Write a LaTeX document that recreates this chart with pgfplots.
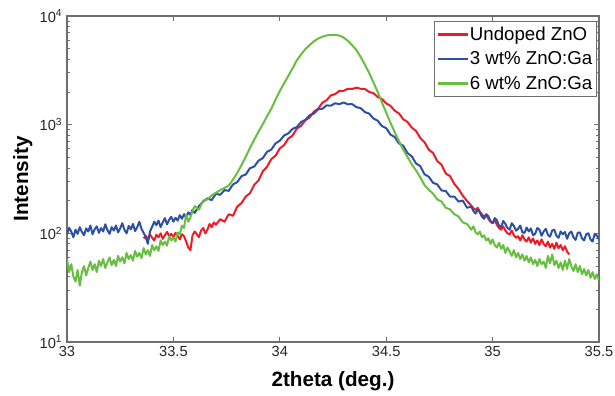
\documentclass[border=0pt]{standalone}
\usepackage{fontspec}
\setmainfont{Liberation Sans}
\usepackage{pgfplots}
\pgfplotsset{compat=1.18}
\usepackage{pgfplotstable}
\definecolor{cred}{RGB}{237,28,36}
\definecolor{cblue}{RGB}{46,80,164}
\definecolor{cgreen}{RGB}{104,190,64}
\definecolor{caxis}{RGB}{110,110,110}

\pgfplotstableread{
x y
33.36 90
33.37 95
33.38 88
33.39 98
33.40 91
33.41 86
33.42 97
33.43 92
33.44 100
33.45 89
33.46 96
33.47 103
33.48 94
33.49 99
33.50 92
33.51 101
33.52 95
33.53 88
33.54 98
33.55 94
33.56 84
33.57 74
33.58 70
33.59 96
33.60 104
33.61 98
33.62 92
33.63 106
33.64 112
33.65 100
33.66 108
33.67 122
33.68 114
33.69 126
33.70 120
33.72 135
33.74 128
33.76 150
33.78 145
33.80 176
33.82 190
33.84 218
33.86 234
33.88 280
33.90 306
33.92 372
33.94 410
33.96 482
33.98 518
34.00 605
34.02 648
34.04 745
34.06 795
34.08 920
34.10 975
34.12 1100
34.14 1165
34.16 1315
34.18 1400
34.20 1590
34.22 1680
34.24 1860
34.26 1910
34.28 2050
34.30 2050
34.32 2140
34.34 2130
34.36 2190
34.38 2140
34.40 2130
34.42 2000
34.44 1950
34.46 1800
34.48 1720
34.50 1570
34.52 1490
34.54 1345
34.56 1270
34.58 1120
34.60 1060
34.62 940
34.64 875
34.66 755
34.68 690
34.70 588
34.72 550
34.74 462
34.76 428
34.78 355
34.80 336
34.82 285
34.84 256
34.86 222
34.88 198
34.90 180
34.91 170
34.92 164
34.93 172
34.94 158
34.95 150
34.96 142
34.97 148
34.98 136
34.99 128
35.00 124
35.01 132
35.02 120
35.03 112
35.04 108
35.05 116
35.06 106
35.07 100
35.08 98
35.09 106
35.10 96
35.11 91
35.12 94
35.13 86
35.14 96
35.15 88
35.16 84
35.17 92
35.18 82
35.19 90
35.20 80
35.21 86
35.22 78
35.23 88
35.24 80
35.25 76
35.26 84
35.27 74
35.28 80
35.29 72
35.30 82
35.31 73
35.32 78
35.33 70
35.34 76
35.35 68
35.36 64
}\redtable

\pgfplotstableread{
x y
33.00 98
33.01 112
33.02 104
33.03 92
33.04 108
33.05 99
33.06 114
33.07 103
33.08 96
33.09 111
33.10 104
33.11 118
33.12 98
33.13 109
33.14 116
33.15 101
33.16 112
33.17 104
33.18 121
33.19 107
33.20 99
33.21 114
33.22 106
33.23 118
33.24 102
33.25 111
33.26 124
33.27 108
33.28 100
33.29 117
33.30 109
33.31 122
33.32 105
33.33 114
33.34 128
33.35 110
33.36 101
33.37 92
33.38 80
33.39 104
33.40 115
33.41 128
33.42 119
33.43 131
33.44 114
33.45 126
33.46 138
33.47 121
33.48 133
33.49 142
33.50 128
33.51 139
33.52 131
33.53 147
33.54 136
33.55 150
33.56 139
33.57 156
33.58 148
33.59 165
33.60 154
33.62 178
33.64 196
33.66 210
33.68 202
33.70 232
33.72 226
33.74 250
33.76 246
33.78 282
33.80 296
33.82 336
33.84 348
33.86 398
33.88 412
33.90 466
33.92 492
33.94 562
33.96 590
33.98 672
34.00 712
34.02 795
34.04 830
34.06 915
34.08 950
34.10 1060
34.12 1105
34.14 1220
34.16 1265
34.18 1385
34.20 1400
34.22 1505
34.24 1495
34.26 1575
34.28 1545
34.30 1600
34.32 1540
34.34 1545
34.36 1450
34.38 1420
34.40 1305
34.42 1265
34.44 1140
34.46 1090
34.48 970
34.50 930
34.52 810
34.54 770
34.56 672
34.58 640
34.60 548
34.62 512
34.64 440
34.66 415
34.68 350
34.70 332
34.72 292
34.74 282
34.76 248
34.78 245
34.80 218
34.82 218
34.84 196
34.86 200
34.88 172
34.90 176
34.91 160
34.92 152
34.93 166
34.94 156
34.95 142
34.96 136
34.97 150
34.98 144
34.99 130
35.00 124
35.01 138
35.02 132
35.03 118
35.04 114
35.05 130
35.06 122
35.07 112
35.08 108
35.09 124
35.10 117
35.11 106
35.12 110
35.13 118
35.14 102
35.15 101
35.16 113
35.17 104
35.18 111
35.19 96
35.20 99
35.21 112
35.22 108
35.23 95
35.24 104
35.25 110
35.26 97
35.27 93
35.28 106
35.29 108
35.30 95
35.31 91
35.32 104
35.33 98
35.34 103
35.35 89
35.36 100
35.37 104
35.38 92
35.39 87
35.40 101
35.41 102
35.42 90
35.43 86
35.44 98
35.45 100
35.46 88
35.47 84
35.48 99
35.49 95
35.50 88
}\bluetable

\pgfplotstableread{
x y
33.00 58
33.01 44
33.02 52
33.03 40
33.04 36
33.05 46
33.06 33
33.07 44
33.08 50
33.09 41
33.10 48
33.11 55
33.12 46
33.13 52
33.14 44
33.15 56
33.16 50
33.17 58
33.18 48
33.19 54
33.20 60
33.21 51
33.22 57
33.23 50
33.24 62
33.25 55
33.26 60
33.27 53
33.28 66
33.29 58
33.30 63
33.31 56
33.32 69
33.33 61
33.34 66
33.35 59
33.36 73
33.37 64
33.38 70
33.39 62
33.40 78
33.41 70
33.42 76
33.43 69
33.44 86
33.45 78
33.46 84
33.47 77
33.48 94
33.49 86
33.50 92
33.51 84
33.52 102
33.53 98
33.54 118
33.55 112
33.56 150
33.57 128
33.58 140
33.59 160
33.60 178
33.62 165
33.64 200
33.66 205
33.68 224
33.70 236
33.72 250
33.74 262
33.76 275
33.78 312
33.80 360
33.82 425
33.84 505
33.86 612
33.88 728
33.90 862
33.92 1010
33.94 1195
33.96 1400
33.98 1700
34.00 2040
34.02 2400
34.04 2810
34.06 3300
34.08 3920
34.10 4430
34.12 4950
34.14 5400
34.16 5850
34.18 6200
34.20 6450
34.22 6620
34.24 6720
34.26 6700
34.28 6600
34.30 6350
34.32 5900
34.34 5380
34.36 4850
34.38 4200
34.40 3560
34.42 2990
34.44 2450
34.46 2000
34.48 1600
34.50 1290
34.52 1040
34.54 855
34.56 705
34.58 590
34.60 505
34.62 432
34.64 380
34.66 328
34.68 278
34.70 252
34.72 232
34.74 205
34.76 196
34.78 172
34.80 166
34.82 150
34.84 143
34.86 126
34.88 122
34.90 108
34.91 116
34.92 102
34.93 98
34.94 104
34.95 92
34.96 96
34.97 86
34.98 90
34.99 80
35.00 88
35.01 78
35.02 74
35.03 82
35.04 72
35.05 78
35.06 66
35.07 74
35.08 68
35.09 62
35.10 70
35.11 60
35.12 66
35.13 58
35.14 64
35.15 56
35.16 62
35.17 54
35.18 60
35.19 52
35.20 57
35.21 50
35.22 58
35.23 52
35.24 55
35.25 48
35.26 62
35.27 53
35.28 64
35.29 51
35.30 56
35.31 48
35.32 54
35.33 46
35.34 56
35.35 47
35.36 58
35.37 50
35.38 45
35.39 52
35.40 44
35.41 50
35.42 42
35.43 47
35.44 41
35.45 46
35.46 39
35.47 44
35.48 38
35.49 42
35.50 37
}\greentable

\begin{document}
\begin{tikzpicture}
\begin{semilogyaxis}[
  scale only axis,
  width=399pt, height=244.5pt,
  xmin=33, xmax=35.5, ymin=10, ymax=10000,
  xtick={33,33.5,34,34.5,35,35.5},
  xticklabels={33,33.5,34,34.5,35,35.5},
  ytick={10,100,1000,10000},
  yticklabels={10\textsuperscript{1},10\textsuperscript{2},10\textsuperscript{3},10\textsuperscript{4}},
  minor x tick num=0,
  tick align=inside,
  tick pos=both,
  major tick length=4pt, minor tick length=2.5pt,
  axis line style={caxis, line width=0.9pt},
  every tick/.style={caxis, line width=0.6pt},
  tick label style={font=\fontsize{11}{13}\selectfont, text=black!85},
  xlabel={2theta (deg.)}, ylabel={Intensity},
  label style={font=\fontsize{15.5}{18}\selectfont\bfseries},
  xlabel style={at={(axis description cs:0.5,-0.12)}, anchor=center},
  ylabel style={at={(axis description cs:-0.083,0.5)}, anchor=center},
  legend style={at={(rel axis cs:0.996,0.985)}, anchor=north east,
    draw=caxis, thick, font=\fontsize{14}{16}\selectfont,
    inner xsep=2pt, inner ysep=2pt, row sep=3pt,
    nodes={inner xsep=1pt}},
  legend cell align=left,
  legend image code/.code={\draw[#1, line width=1.6pt] (0pt,0pt) -- (22pt,0pt);},
  every axis plot/.append style={line width=1.5pt, line join=round},
]
\addplot[cred] table[x=x,y=y] {\redtable};
\addlegendentry{Undoped ZnO}
\addplot[cblue] table[x=x,y=y] {\bluetable};
\addlegendentry{3 wt\% ZnO:Ga}
\addplot[cgreen] table[x=x,y=y] {\greentable};
\addlegendentry{6 wt\% ZnO:Ga}
\end{semilogyaxis}
\pgfresetboundingbox
\path[use as bounding box] (-50.25pt,-40.5pt) rectangle (411pt,256.5pt);
\end{tikzpicture}
\end{document}
